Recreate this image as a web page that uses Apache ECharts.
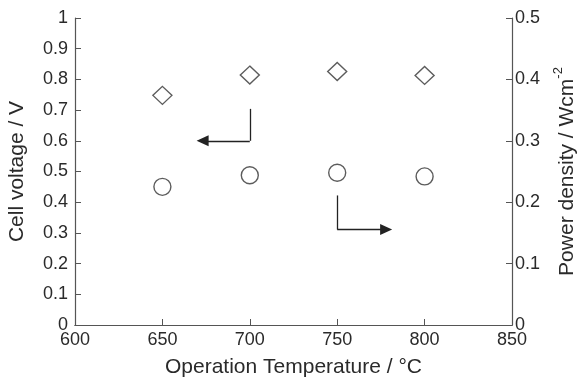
<!DOCTYPE html>
<html>
<head>
<meta charset="utf-8">
<script src="https://cdn.jsdelivr.net/npm/echarts@6/dist/echarts.min.js"></script>
<style>html,body{margin:0;padding:0;background:#fff}#c{width:578px;height:377px}</style>
</head>
<body>
<div id="c"></div>
<script>
var temperatures = [650, 700, 750, 800];
var cellVoltage = [0.748, 0.814, 0.826, 0.813];
var powerDensity = [0.225, 0.244, 0.248, 0.242];
var xTicks = [600, 650, 700, 750, 800, 850];
// arrow annotations (data coordinates, left axis); last point = arrowhead centre
var arrowLeft = [[700, 0.704], [700, 0.6], [673, 0.6]];
var arrowRight = [[750, 0.422], [750, 0.311], [778, 0.311]];

var font = '"Liberation Sans", Arial, sans-serif';
var axisCol = '#555';
var txtCol = '#2a2a2a';

function arrowLines(pts) {
  return [
    [{coord: pts[0], symbol: 'none'}, {coord: pts[1], symbol: 'none'}],
    [{coord: pts[1], symbol: 'none'}, {coord: pts[2], symbol: 'triangle', symbolSize: [11, 12]}]
  ];
}

var chart = echarts.init(document.getElementById('c'));
chart.setOption({
  animation: false,
  backgroundColor: '#fff',
  grid: {left: 75, right: 66, top: 18, bottom: 52, outerBoundsMode: 'none', containLabel: false},
  xAxis: [{
    type: 'value', min: xTicks[0], max: xTicks[xTicks.length - 1], interval: 50,
    name: 'Operation Temperature / \u00b0C', nameLocation: 'middle', nameGap: 32,
    nameTextStyle: {fontFamily: font, fontSize: 21, color: txtCol},
    axisLine: {lineStyle: {color: axisCol, width: 1.2}},
    axisTick: {inside: true, length: 6, lineStyle: {color: axisCol}},
    axisLabel: {fontFamily: font, fontSize: 18, color: txtCol, margin: 6},
    splitLine: {show: false}
  }, {
    type: 'value', position: 'top', min: 600, max: 850,
    axisLine: {show: true, lineStyle: {color: axisCol, width: 1.2}},
    axisTick: {show: false}, axisLabel: {show: false}, splitLine: {show: false}
  }],
  yAxis: [{
    type: 'value', min: 0, max: 1, interval: 0.1, position: 'left',
    name: 'Cell voltage / V', nameLocation: 'middle', nameGap: 47,
    nameTextStyle: {fontFamily: font, fontSize: 21, color: txtCol},
    axisLine: {show: true, lineStyle: {color: axisCol, width: 1.2}},
    axisTick: {show: true, inside: true, length: 6, lineStyle: {color: axisCol}},
    axisLabel: {fontFamily: font, fontSize: 18, color: txtCol, margin: 7},
    splitLine: {show: false}
  }, {
    type: 'value', min: 0, max: 0.5, interval: 0.1, position: 'right',
    name: 'Power density / Wcm{sup|-2}', nameLocation: 'middle', nameGap: 40, nameRotate: 90,
    nameTextStyle: {fontFamily: font, fontSize: 21, color: txtCol,
      rich: {sup: {fontFamily: font, fontSize: 13, color: txtCol, verticalAlign: 'top', lineHeight: 30}}},
    axisLine: {show: true, lineStyle: {color: axisCol, width: 1.2}},
    axisTick: {show: true, inside: true, length: 6, lineStyle: {color: axisCol}},
    axisLabel: {fontFamily: font, fontSize: 18, color: txtCol, margin: 3},
    splitLine: {show: false}
  }],
  series: [{
    name: 'Cell voltage', type: 'scatter', yAxisIndex: 0,
    symbol: 'diamond', symbolSize: [19, 18],
    itemStyle: {color: '#fff', borderColor: '#333', borderWidth: 1.4},
    data: temperatures.map(function (t, i) { return [t, cellVoltage[i]]; }),
    markLine: {
      silent: true, symbol: 'none', animation: false,
      label: {show: false},
      lineStyle: {color: '#222', width: 1.3, type: 'solid'},
      data: arrowLines(arrowLeft).concat(arrowLines(arrowRight))
    }
  }, {
    name: 'Power density', type: 'scatter', yAxisIndex: 1,
    symbol: 'circle', symbolSize: 17,
    itemStyle: {color: '#fff', borderColor: '#333', borderWidth: 1.4},
    data: temperatures.map(function (t, i) { return [t, powerDensity[i]]; })
  }]
});
</script>
</body>
</html>
